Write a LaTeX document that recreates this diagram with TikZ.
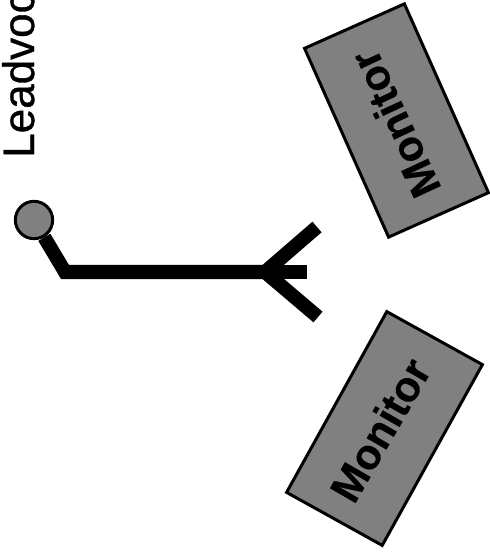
\documentclass[tikz,border=0pt]{standalone}
\usepackage{fontspec}
\setmainfont{Liberation Sans}
\newfontfamily\boldtitle[FakeBold=0.8]{Liberation Sans}
\newfontfamily\boldlabel[FakeBold=0.6]{Liberation Sans Bold}
\usepackage{tikz}

\tikzset{
  monitorbox/.style={draw=black,line width=2.25pt,fill={rgb, 255:red, 128; green, 128; blue, 128},minimum width=155pt,minimum height=82pt,inner sep=0pt},
  monitortext/.style={inner sep=0.75pt,font=\fontsize{32}{32}\boldlabel},
  limb/.style={line width=10.5pt,draw=black}
}

\begin{document}
\begin{tikzpicture}[x=0.75pt,y=0.75pt,yscale=-1,xscale=1]
\useasboundingbox (0,0) rectangle (489,555);

%Shape: Rectangle [id:monitorA]
\node [monitorbox,rotate=114] (monitorA) at (396.5,120.5) {};
%Shape: Rectangle [id:monitorB]
\node [monitorbox,rotate=61] (monitorB) at (384.5,428.5) {};

%Shape: Circle [id:head]
\node [circle,draw=black,line width=2.25pt,fill={rgb, 255:red, 128; green, 128; blue, 128},minimum size=28pt,inner sep=0pt] (head) at (34,220) {};

\coordinate (hip) at (65,272);
\coordinate (fork) at (265,272);
\coordinate (armA) at (317,227);
\coordinate (armB) at (307,272);
\coordinate (armC) at (318,317);

%Shape: Body
\draw [limb] (head) -- (hip) -- (fork);
\draw [limb] (fork) -- (armA);
\draw [limb] (fork) -- (armB);
\draw [limb] (fork) -- (armC);

% Text Node
\node [monitortext,rotate=115] (textA) at (395,124) {Monitor};
% Text Node
\node [monitortext,rotate=60] (textB) at (380,430) {Monitor};
% Text Node
\node [anchor=base west,rotate=90,inner sep=0pt,font=\fontsize{33}{33}\boldtitle] (title) at (34,158) {Leadvoc};

\end{tikzpicture}
\end{document}
